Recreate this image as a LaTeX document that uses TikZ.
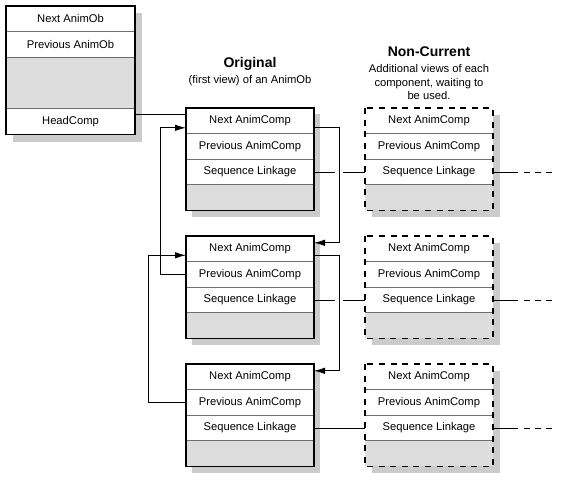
\documentclass[tikz,border=0pt]{standalone}
\usepackage{fontspec}
\setmainfont{Liberation Sans}
\usetikzlibrary{positioning,arrows.meta}
\definecolor{shadowgray}{HTML}{CBCBCB}
\definecolor{emptygray}{HTML}{DDDDDD}
\definecolor{rulegray}{HTML}{6E6E6E}

\tikzset{
  field/.style={minimum width=128pt, minimum height=25.6pt, inner sep=0pt,
    outer sep=0pt, fill=white, font=\fontsize{11.2}{13}\selectfont},
  blankfield/.style={field, fill=emptygray},
  frame/.style={line width=1.3pt},
  ghostframe/.style={line width=1.3pt, dash pattern=on 6pt off 5.6pt},
  sepline/.style={line width=0.7pt, rulegray},
  link/.style={line width=1pt},
  linkarrow/.style={link, -{Latex[length=11pt,width=6.5pt]}},
  heading/.style={font=\bfseries\fontsize{14}{16}\selectfont},
  caption/.style={font=\fontsize{11.2}{13.5}\selectfont, align=center},
}

\begin{document}
\begin{tikzpicture}[x=1pt,y=-1pt]
  \useasboundingbox (0,0) rectangle (563,480);

  % the AnimOb itself
  \fill[shadowgray] (13,13) rectangle (142,141.5);
  \node[field, minimum width=129pt, anchor=north west] (a-next) at (6,6) {Next AnimOb};
  \node[field, minimum width=129pt, below=0pt of a-next] (a-prev) {Previous AnimOb};
  \node[blankfield, minimum width=129pt, minimum height=51pt, below=0pt of a-prev] (a-blank) {};
  \node[field, minimum width=129pt, minimum height=26.5pt, below=0pt of a-blank] (a-head) {HeadComp};
  \foreach \r in {next,prev,blank}
    \draw[sepline] (a-\r.south west) -- (a-\r.south east);
  \draw[frame] (a-next.north west) rectangle (a-head.south east);

  % column headings
  \node[heading] (orig-title) at (250,64) {Original};
  \node[caption] (orig-text) at (250,81) {(first view) of an AnimOb};
  \node[heading] (ghost-title) at (429,52) {Non-Current};
  \node[caption] (ghost-text) at (429,82) {Additional views of each\\component, waiting to\\be used.};

  % component views, original and non-current
  \foreach \i/\y in {1/108,2/236,3/364} {
    \fill[shadowgray] (192,{\y+6}) rectangle (320,{\y+108.5});
    \node[field, anchor=north west] (o\i-next) at (186,\y) {Next AnimComp};
    \node[field, below=0pt of o\i-next] (o\i-prev) {Previous AnimComp};
    \node[field, below=0pt of o\i-prev] (o\i-seq) {Sequence Linkage};
    \node[blankfield, below=0pt of o\i-seq] (o\i-blank) {};
    \foreach \r in {next,prev,seq}
      \draw[sepline] (o\i-\r.south west) -- (o\i-\r.south east);
    \draw[frame] (o\i-next.north west) rectangle (o\i-blank.south east);

    \fill[shadowgray] (372,{\y+7}) rectangle (500,{\y+109});
    \node[field, anchor=north west] (n\i-next) at (365,\y) {Next AnimComp};
    \node[field, below=0pt of n\i-next] (n\i-prev) {Previous AnimComp};
    \node[field, below=0pt of n\i-prev] (n\i-seq) {Sequence Linkage};
    \node[blankfield, below=0pt of n\i-seq] (n\i-blank) {};
    \foreach \r in {next,prev,seq}
      \draw[sepline] (n\i-\r.south west) -- (n\i-\r.south east);
    \draw[ghostframe] (n\i-next.north west) rectangle (n\i-blank.south east);

    % sequence linkage out to the right
    \draw[link] (n\i-seq.east) -- ++(25,0);
    \draw[link, dash pattern=on 6pt off 5pt] ([xshift=31pt]n\i-seq.east) -- ++(28,0);
  }

  % sequence linkage, broken where the chain passes
  \foreach \i in {1,2}
    \draw[link] (o\i-seq.east) -- ++(21,0) (n\i-seq.west) -- ++(-22,0);
  \draw[link] (o3-seq.east) -- (n3-seq.west);

  % chain of components
  \draw[link] ([yshift=7pt]a-head.east) -- ([yshift=7pt]a-head.east -| o1-next.west);
  \draw[linkarrow] ([yshift=-6.5pt]o1-next.east) -- ++(25,0) |- ([yshift=6pt]o2-next.east);
  \draw[linkarrow] ([yshift=-6.5pt]o2-next.east) -- ++(25,0) |- ([yshift=6pt]o3-next.east);
  \draw[linkarrow] (o2-prev.west) -- ++(-26,0) |- ([yshift=-7pt]o1-next.west);
  \draw[linkarrow] (o3-prev.west) -- ++(-38,0) |- ([yshift=-6.5pt]o2-next.west);
\end{tikzpicture}
\end{document}
